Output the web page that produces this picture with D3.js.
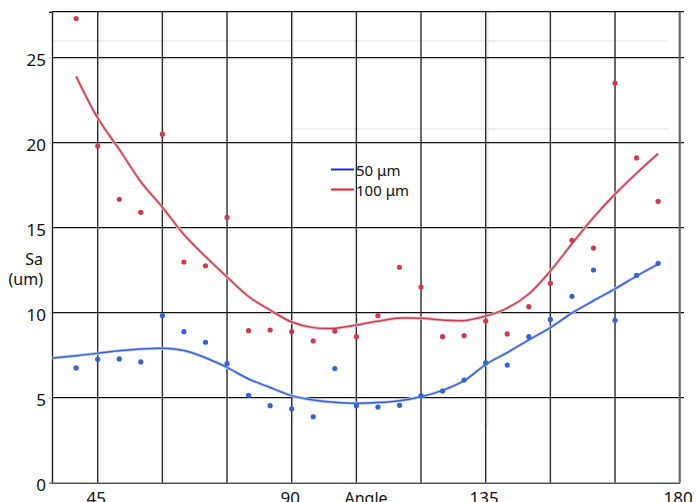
<!DOCTYPE html>
<html><head><meta charset="utf-8">
<script src="https://cdn.jsdelivr.net/npm/d3@7"></script>
<style>html,body{margin:0;padding:0;background:#fff;overflow:hidden}</style>
</head><body><svg id="c" width="696" height="502"></svg>
<script>
const angles = [40,45,50,55,60,65,70,75,80,85,90,95,100,105,110,115,120,125,130,135,140,145,150,155,160,165,170,175];
const sa100 = [27.3,19.8,16.67,15.9,20.5,12.98,12.76,15.6,8.94,8.98,8.88,8.34,8.92,8.59,9.82,12.67,11.51,8.59,8.65,9.51,8.75,10.35,11.73,14.26,13.8,23.5,19.1,16.55];
const sa50 = [6.75,7.26,7.28,7.1,9.82,8.88,8.26,7.0,5.14,4.53,4.35,3.88,6.71,4.53,4.45,4.55,5.12,5.39,6.04,7.06,6.92,8.59,9.6,10.96,12.51,9.55,12.2,12.9];
const fitAngles100 = [40,45,50,55,60,65,70,75,80,85,90,95,100,105,110,115,120,125,130,135,140,145,150,155,160,165,170,175];
const fit100 = [23.9,21.45,19.6,17.7,16.2,14.6,13.3,12.1,10.95,10.15,9.45,9.12,9.08,9.27,9.5,9.68,9.67,9.57,9.53,9.8,10.27,11.1,12.45,14.05,15.6,16.97,18.2,19.35];
const fitAngles50 = [34.5,40,45,50,55,60,65,70,75,80,85,90,95,100,105,110,115,120,125,130,135,140,145,150,155,160,165,170,175];
const fit50 = [7.33,7.47,7.61,7.76,7.86,7.9,7.77,7.35,6.78,6.1,5.6,5.12,4.86,4.73,4.67,4.71,4.82,5.06,5.43,6.0,6.95,7.65,8.4,9.12,9.98,10.7,11.4,12.15,12.85];
const xTicks = [45,90,135,180];
const xGrid = [45,60,75,90,105,120,135,150,165];
const yTicks = [0,5,10,15,20,25];
const legendLabels = ["50 μm","100 μm"];

const svg = d3.select("#c");
const font = "'Noto Sans', sans-serif";
const x = d3.scaleLinear().domain([34.4,180]).range([52,679.7]);
const y = d3.scaleLinear().domain([0,27.7]).range([482.7,11.7]);

// faint artifact lines
const faint = svg.append("g").attr("stroke","#f0f0f0").attr("stroke-width",2);
faint.append("line").attr("x1",52).attr("x2",668).attr("y1",41).attr("y2",41);
faint.append("line").attr("x1",292).attr("x2",670).attr("y1",129).attr("y2",129);
faint.append("line").attr("x1",292).attr("x2",292).attr("y1",12).attr("y2",427);
faint.append("line").attr("x1",487.7).attr("x2",487.7).attr("y1",12).attr("y2",427);

// horizontal grid
svg.append("g").selectAll("line").data(yTicks.filter(d=>d>0)).join("line")
  .attr("x1",52).attr("x2",684).attr("y1",d=>y(d)).attr("y2",d=>y(d))
  .attr("stroke","#111").attr("stroke-width",1.2);
// top border
svg.append("line").attr("x1",52).attr("x2",684).attr("y1",y(27.7)).attr("y2",y(27.7)).attr("stroke","#111").attr("stroke-width",1.2);
// vertical grid
svg.append("g").selectAll("line").data(xGrid).join("line")
  .attr("x1",d=>x(d)).attr("x2",d=>x(d)).attr("y1",y(27.7)).attr("y2",y(0))
  .attr("stroke","#2a2a2a").attr("stroke-width",1.4);
// right border
svg.append("line").attr("x1",x(180)).attr("x2",x(180)).attr("y1",y(27.7)).attr("y2",y(0)).attr("stroke","#666").attr("stroke-width",2.2);

// axes
const yAxis = svg.append("g").attr("transform","translate(52,0)")
  .call(d3.axisLeft(y).tickValues(yTicks).tickSize(3).tickPadding(3));
yAxis.select(".domain").attr("stroke","#222").attr("stroke-width",1.4);
yAxis.selectAll(".tick line").attr("stroke","#bbb");
yAxis.selectAll("text").attr("font-family",font).attr("font-size",17).attr("fill","#111").attr("dy","0.45em");

const xAxis = svg.append("g").attr("transform","translate(0,482.7)")
  .call(d3.axisBottom(x).tickValues(xTicks).tickSize(0).tickPadding(6));
xAxis.select(".domain").attr("stroke","#555").attr("stroke-width",1.6);
xAxis.selectAll("text").attr("font-family",font).attr("font-size",17).attr("fill","#111").attr("dy","0.9em").attr("dx","-2");

svg.append("text").attr("x",366).attr("y",503.5).attr("text-anchor","middle")
  .attr("font-family",font).attr("font-size",16).attr("fill","#111").text("Angle");
svg.append("text").attr("x",43).attr("y",265).attr("text-anchor","end")
  .attr("font-family",font).attr("font-size",16).attr("fill","#111").text("Sa");
svg.append("text").attr("x",43).attr("y",285).attr("text-anchor","end")
  .attr("font-family",font).attr("font-size",16).attr("fill","#111").text("(um)");

// curves
const line = d3.line().x(d=>x(d[0])).y(d=>y(d[1])).curve(d3.curveCatmullRom.alpha(0.5));
const red = "#cf3a4e", blue = "#3563d6";
svg.append("path").datum(d3.zip(fitAngles100,fit100)).attr("d",line)
  .attr("fill","none").attr("stroke","#eac3c8").attr("stroke-width",3.2);
svg.append("path").datum(d3.zip(fitAngles100,fit100)).attr("d",line)
  .attr("fill","none").attr("stroke",red).attr("stroke-width",1.5);
svg.append("path").datum(d3.zip(fitAngles50,fit50)).attr("d",line)
  .attr("fill","none").attr("stroke","#c3cff0").attr("stroke-width",3.2);
svg.append("path").datum(d3.zip(fitAngles50,fit50)).attr("d",line)
  .attr("fill","none").attr("stroke",blue).attr("stroke-width",1.5);

// points
svg.append("g").selectAll("circle").data(d3.zip(angles,sa100)).join("circle")
  .attr("cx",d=>x(d[0])).attr("cy",d=>y(d[1])).attr("r",2.6).attr("fill",red);
svg.append("g").selectAll("circle").data(d3.zip(angles,sa50)).join("circle")
  .attr("cx",d=>x(d[0])).attr("cy",d=>y(d[1])).attr("r",2.6).attr("fill",blue);

// legend
const leg = svg.append("g");
const legColors = ["#1a2cf0","#f01a1a"];
legendLabels.forEach((t,i)=>{
  leg.append("line").attr("x1",331).attr("x2",354).attr("y1",169.5+i*20).attr("y2",169.5+i*20)
    .attr("stroke",legColors[i]).attr("stroke-width",2);
  leg.append("text").attr("x",356).attr("y",176+i*20).attr("font-family",font)
    .attr("font-size",15).attr("fill","#111").text(t);
});
</script></body></html>
